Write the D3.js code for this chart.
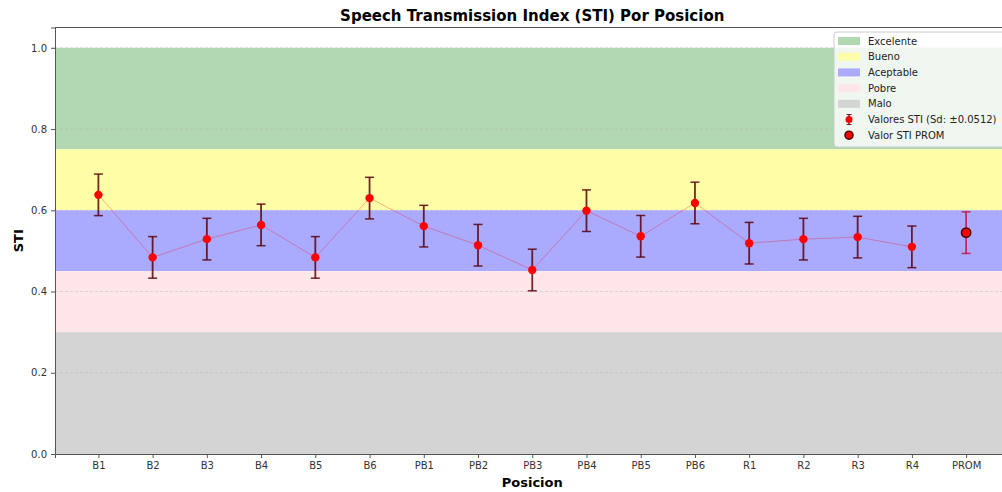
<!DOCTYPE html>
<html>
<head>
<meta charset="utf-8">
<script src="https://cdn.jsdelivr.net/npm/d3@7"></script>
<style>
  body { margin: 0; background: #fff; }
  text { font-family: 'DejaVu Sans', sans-serif; }
</style>
</head>
<body>
<div id="chart"></div>
<script>
// data
var posiciones = ['B1','B2','B3','B4','B5','B6','PB1','PB2','PB3','PB4','PB5','PB6','R1','R2','R3','R4']
var valoresSTI = [0.638,0.484,0.529,0.564,0.484,0.630,0.561,0.514,0.453,0.599,0.536,0.618,0.519,0.529,0.534,0.510]
var promLabel = 'PROM'
var promSTI = 0.545
var sd = 0.0512
var bandNames = ['Excelente','Bueno','Aceptable','Pobre','Malo']
var bandLow  = [0.75, 0.60, 0.45, 0.30, 0.00]
var bandHigh = [1.00, 0.75, 0.60, 0.45, 0.30]
var bandColors = ['#b2d8b2','#ffffa8','#aaaaff','#ffe6e8','#d4d4d4']
var yTicks = [0.0, 0.2, 0.4, 0.6, 0.8, 1.0]

var W = 1002, H = 492
var margin = { top: 27.5, left: 55, bottom: 38 }
var h = H - margin.top - margin.bottom

var cats = posiciones.concat([promLabel])

// categorical x with matplotlib-like margins (-0.8 .. 16.8)
var xScale = d3.scaleLinear()
  .domain([-0.8, cats.length - 1 + 0.8])
  .range([0, 954.5])
var yScale = d3.scaleLinear()
  .domain([0, 1.05])
  .range([h, 0])

var svg = d3.select('#chart').append('svg')
    .attr('width', W)
    .attr('height', H)
  .append('g')
    .attr('transform', 'translate(' + margin.left + ',' + margin.top + ')')

// bands
svg.selectAll('rect.band')
    .data(bandNames)
    .enter()
  .append('rect')
    .attr('class', 'band')
    .attr('x', 0)
    .attr('width', xScale.range()[1])
    .attr('y', function (d, i) { return yScale(bandHigh[i]) })
    .attr('height', function (d, i) { return yScale(bandLow[i]) - yScale(bandHigh[i]) })
    .attr('fill', function (d, i) { return bandColors[i] })

// grid
svg.selectAll('line.grid')
    .data(yTicks.slice(1))
    .enter()
  .append('line')
    .attr('class', 'grid')
    .attr('x1', 0).attr('x2', xScale.range()[1])
    .attr('y1', function (d) { return yScale(d) })
    .attr('y2', function (d) { return yScale(d) })
    .attr('stroke', '#b0b0b0')
    .attr('stroke-opacity', 0.5)
    .attr('stroke-dasharray', '3,2')
    .attr('stroke-width', 0.8)

// connecting line
var line = d3.line()
  .x(function (d, i) { return xScale(i) })
  .y(function (d) { return yScale(d) })
svg.append('path')
  .datum(valoresSTI)
  .attr('d', line)
  .attr('fill', 'none')
  .attr('stroke', 'red')
  .attr('stroke-opacity', 0.3)
  .attr('stroke-width', 1)

// error bars
function errBar(g, x, v, color) {
  g.append('line')
    .attr('x1', x).attr('x2', x)
    .attr('y1', yScale(v - sd)).attr('y2', yScale(v + sd))
    .attr('stroke', color).attr('stroke-width', 1.8)
  ;[v - sd, v + sd].forEach(function (e) {
    g.append('line')
      .attr('x1', x - 4.5).attr('x2', x + 4.5)
      .attr('y1', yScale(e)).attr('y2', yScale(e))
      .attr('stroke', color).attr('stroke-width', 1.5)
  })
}
var eb = svg.append('g')
valoresSTI.forEach(function (v, i) {
  errBar(eb, xScale(i), v, 'rgba(90,0,10,0.85)')
})
errBar(eb, xScale(cats.length - 1), promSTI, 'rgba(200,0,40,0.75)')

// points
svg.selectAll('circle.pt')
    .data(valoresSTI)
    .enter()
  .append('circle')
    .attr('class', 'pt')
    .attr('cx', function (d, i) { return xScale(i) })
    .attr('cy', function (d) { return yScale(d) })
    .attr('r', 4.2)
    .attr('fill', 'red')
svg.append('circle')
  .attr('cx', xScale(cats.length - 1))
  .attr('cy', yScale(promSTI))
  .attr('r', 4.6)
  .attr('fill', 'red')
  .attr('stroke', '#4a0000')
  .attr('stroke-width', 1.6)

// axes
var xAxis = d3.axisBottom(xScale)
  .tickValues(d3.range(cats.length))
  .tickFormat(function (d) { return cats[d] })
  .tickSize(4).tickPadding(4)
var yAxis = d3.axisLeft(yScale)
  .tickValues(yTicks)
  .tickFormat(d3.format('.1f'))
  .tickSize(4).tickPadding(4)

var gx = svg.append('g')
  .attr('transform', 'translate(0,' + h + ')')
  .call(xAxis)
var gy = svg.append('g').call(yAxis)
;[gx, gy].forEach(function (g) {
  g.select('.domain').attr('stroke', '#555').attr('stroke-width', 1)
  g.selectAll('.tick line').attr('stroke', '#555')
  g.selectAll('.tick text')
    .attr('fill', '#333')
    .style('font-size', '10px')
    .style('font-family', 'DejaVu Sans, sans-serif')
})
// top spine
svg.append('line')
  .attr('x1', 0).attr('x2', xScale.range()[1])
  .attr('y1', 0).attr('y2', 0)
  .attr('stroke', '#555')

// labels
svg.append('text')
  .attr('x', xScale.range()[1] / 2)
  .attr('y', -7)
  .attr('text-anchor', 'middle')
  .style('font-size', '15px')
  .style('font-weight', 'bold')
  .text('Speech Transmission Index (STI) Por Posicion')
svg.append('text')
  .attr('x', xScale.range()[1] / 2)
  .attr('y', h + 33)
  .attr('text-anchor', 'middle')
  .style('font-size', '13px')
  .style('font-weight', 'bold')
  .text('Posicion')
svg.append('text')
  .attr('transform', 'translate(-32,' + (h / 2) + ') rotate(-90)')
  .attr('text-anchor', 'middle')
  .style('font-size', '13px')
  .style('font-weight', 'bold')
  .text('STI')

// legend
var lx = 834 - margin.left, ly = 32 - margin.top
var legend = svg.append('g').attr('transform', 'translate(' + lx + ',' + ly + ')')
legend.append('rect')
  .attr('width', 180).attr('height', 115)
  .attr('rx', 3)
  .attr('fill', 'white').attr('fill-opacity', 0.8)
  .attr('stroke', '#ccc')
var rowH = 15.7
var items = bandNames.concat(['Valores STI (Sd: \u00b1' + sd + ')', 'Valor STI PROM'])
var rows = legend.selectAll('g.row')
    .data(items)
    .enter()
  .append('g')
    .attr('class', 'row')
    .attr('transform', function (d, i) { return 'translate(0,' + (9 + i * rowH) + ')' })
rows.filter(function (d, i) { return i < bandNames.length })
  .append('rect')
    .attr('x', 4).attr('y', -4).attr('width', 22).attr('height', 8)
    .attr('fill', function (d, i) { return bandColors[i] })
rows.append('text')
  .attr('x', 34)
  .attr('y', 3.5)
  .style('font-size', '10px')
  .attr('fill', '#222')
  .text(function (d) { return d })
var r5 = legend.append('g').attr('transform', 'translate(15,' + (9 + 5 * rowH) + ')')
r5.append('line').attr('x1', 0).attr('x2', 0).attr('y1', -5).attr('y2', 5).attr('stroke', 'rgba(90,0,10,0.85)').attr('stroke-width', 1.5)
r5.append('line').attr('x1', -2.5).attr('x2', 2.5).attr('y1', -5).attr('y2', -5).attr('stroke', 'rgba(90,0,10,0.85)')
r5.append('line').attr('x1', -2.5).attr('x2', 2.5).attr('y1', 5).attr('y2', 5).attr('stroke', 'rgba(90,0,10,0.85)')
r5.append('circle').attr('r', 3.5).attr('fill', 'red')
var r6 = legend.append('g').attr('transform', 'translate(15,' + (9 + 6 * rowH) + ')')
r6.append('circle').attr('r', 4).attr('fill', 'red').attr('stroke', '#4a0000').attr('stroke-width', 1.5)
</script>
</body>
</html>
